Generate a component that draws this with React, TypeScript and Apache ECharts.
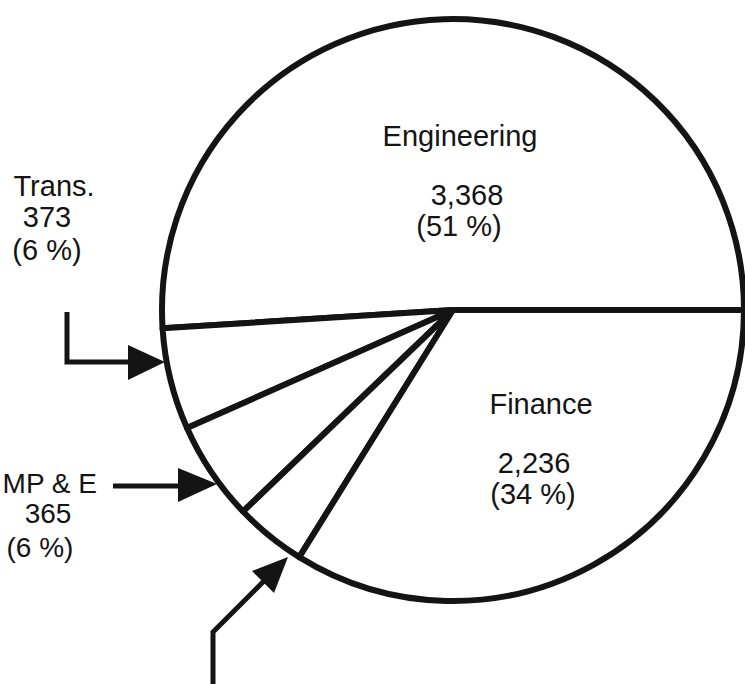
import React, { useEffect, useRef } from "react";
import * as echarts from "echarts";

// ---- data ----
const categories = ["Engineering", "Trans.", "MP & E", "Other", "Finance"];
const values = [3368, 373, 365, 262, 2236];
// which categories carry a printed label in the picture
const labelled = [true, true, true, false, true];

const INK = "#141414";
const FONT = '"Liberation Sans", Arial, Helvetica, sans-serif';

// label placement (layout only)
const labelLayout: Record<string, { size: number; lines: { x: number; y: number; align: string }[] }> = {
  "Engineering": { size: 29, lines: [ { x: 460, y: 136, align: "center" }, { x: 467, y: 195, align: "center" }, { x: 459, y: 226, align: "center" } ] },
  "Finance": { size: 29, lines: [ { x: 541, y: 404, align: "center" }, { x: 534, y: 463, align: "center" }, { x: 533, y: 494, align: "center" } ] },
  "Trans.": { size: 29, lines: [ { x: 54, y: 186, align: "center" }, { x: 47, y: 217, align: "center" }, { x: 47, y: 250, align: "center" } ] },
  "MP & E": { size: 28, lines: [ { x: 97, y: 483, align: "right" }, { x: 48, y: 513, align: "center" }, { x: 40, y: 547, align: "center" } ] },
};

const fmt = (v: number) => v.toLocaleString("en-US");

export default function App() {
  const ref = useRef<HTMLDivElement>(null);

  useEffect(() => {
    if (!ref.current) return;
    const chart = echarts.init(ref.current, undefined, { renderer: "svg" });
    const total = values.reduce((a, b) => a + b, 0);

    const texts: any[] = [];
    categories.forEach((name, i) => {
      if (!labelled[i]) return;
      const lay = labelLayout[name];
      if (!lay) return;
      const pct = Math.round((values[i] / total) * 100);
      const lines = [name, fmt(values[i]), `(${pct} %)`];
      lines.forEach((t, k) => {
        const p = lay.lines[k];
        texts.push({
          type: "text",
          x: p.x,
          y: p.y,
          z: 10,
          style: {
            text: t,
            fill: INK,
            fontSize: lay.size,
            fontFamily: FONT,
            align: p.align,
            verticalAlign: "middle",
          },
        });
      });
    });

    const arrows: any[] = [
      // Trans. arrow (L shape)
      { type: "polyline", z: 10, shape: { points: [[67, 312], [67, 362], [132, 362]] }, style: { stroke: INK, lineWidth: 5, fill: null } },
      { type: "polygon", z: 10, shape: { points: [[128, 345], [165, 362], [128, 380]] }, style: { fill: INK } },
      // MP & E arrow
      { type: "polyline", z: 10, shape: { points: [[113, 486], [182, 486]] }, style: { stroke: INK, lineWidth: 5, fill: null } },
      { type: "polygon", z: 10, shape: { points: [[178, 468], [217, 484], [178, 502]] }, style: { fill: INK } },
      // unlabelled slice arrow from below
      { type: "polyline", z: 10, shape: { points: [[213, 700], [213, 632], [266, 579]] }, style: { stroke: INK, lineWidth: 5, fill: null, lineJoin: "miter" } },
      { type: "polygon", z: 10, shape: { points: [[252, 571], [288, 557], [274, 593]] }, style: { fill: INK } },
    ];

    chart.setOption({
      animation: false,
      backgroundColor: "#ffffff",
      series: [
        {
          type: "pie",
          center: [453, 310],
          radius: 291,
          startAngle: 0,
          clockwise: false,
          avoidLabelOverlap: false,
          silent: true,
          label: { show: false },
          labelLine: { show: false },
          emphasis: { disabled: true },
          itemStyle: {
            color: "#ffffff",
            borderColor: INK,
            borderWidth: 6,
            borderJoin: "round",
          },
          data: categories.map((name, i) => ({ name, value: values[i] })),
        },
      ],
      graphic: [...texts, ...arrows],
    });

    return () => chart.dispose();
  }, []);

  return (
    <div
      ref={ref}
      style={{ position: "fixed", left: 0, top: 0, width: 745, height: 684, background: "#fff" }}
    />
  );
}
